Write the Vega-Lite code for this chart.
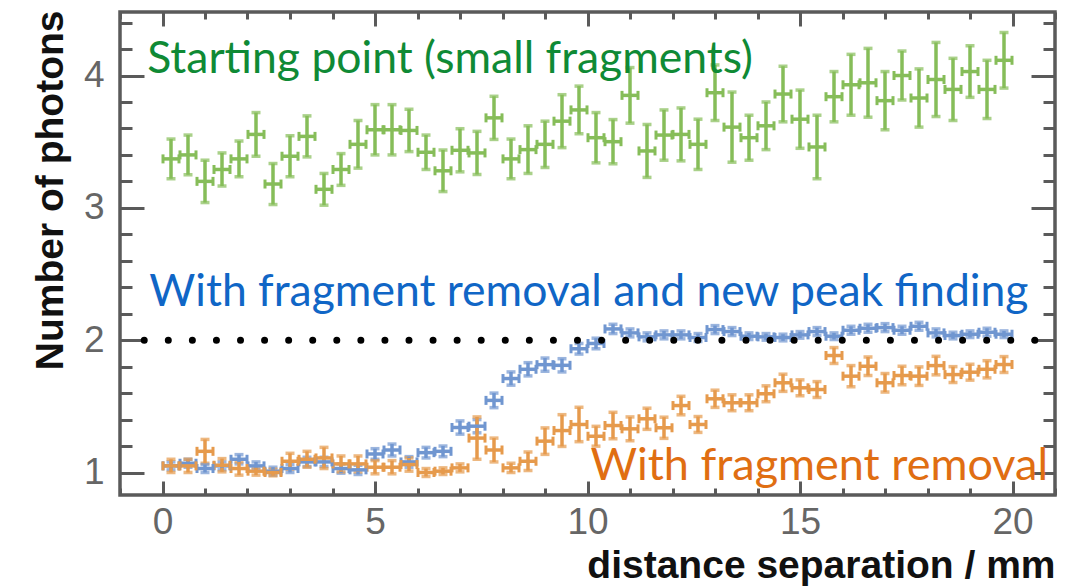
{
"$schema": "https://vega.github.io/schema/vega-lite/v6.json",
"width": 935, "height": 483,
"autosize": "none",
"padding": {"left": 120, "top": 12, "right": 28, "bottom": 92},
"background": "white",
"config": {"view": {"stroke": "#5a5a5a", "strokeWidth": 3.5}},
"data": {"values": [
{"s":"g","x":0.2,"y":3.37,"e":0.15},{"s":"g","x":0.6,"y":3.40,"e":0.15},{"s":"g","x":1.0,"y":3.20,"e":0.16},{"s":"g","x":1.4,"y":3.29,"e":0.125},{"s":"g","x":1.8,"y":3.37,"e":0.135},
{"s":"g","x":2.2,"y":3.555,"e":0.165},{"s":"g","x":2.6,"y":3.18,"e":0.155},{"s":"g","x":3.0,"y":3.39,"e":0.155},{"s":"g","x":3.4,"y":3.54,"e":0.155},{"s":"g","x":3.8,"y":3.14,"e":0.12},
{"s":"g","x":4.2,"y":3.29,"e":0.12},{"s":"g","x":4.6,"y":3.48,"e":0.18},{"s":"g","x":5.0,"y":3.59,"e":0.19},{"s":"g","x":5.4,"y":3.59,"e":0.19},{"s":"g","x":5.8,"y":3.585,"e":0.16},
{"s":"g","x":6.2,"y":3.42,"e":0.13},{"s":"g","x":6.6,"y":3.28,"e":0.157},{"s":"g","x":7.0,"y":3.435,"e":0.163},{"s":"g","x":7.4,"y":3.415,"e":0.163},{"s":"g","x":7.8,"y":3.68,"e":0.163},
{"s":"g","x":8.2,"y":3.37,"e":0.15},{"s":"g","x":8.6,"y":3.44,"e":0.18},{"s":"g","x":9.0,"y":3.48,"e":0.175},{"s":"g","x":9.4,"y":3.655,"e":0.2},{"s":"g","x":9.8,"y":3.74,"e":0.18},
{"s":"g","x":10.2,"y":3.53,"e":0.19},{"s":"g","x":10.6,"y":3.50,"e":0.167},{"s":"g","x":11.0,"y":3.85,"e":0.21},{"s":"g","x":11.4,"y":3.43,"e":0.2},{"s":"g","x":11.8,"y":3.55,"e":0.19},
{"s":"g","x":12.2,"y":3.555,"e":0.2},{"s":"g","x":12.6,"y":3.48,"e":0.19},{"s":"g","x":13.0,"y":3.87,"e":0.21},{"s":"g","x":13.4,"y":3.61,"e":0.265},{"s":"g","x":13.8,"y":3.53,"e":0.17},
{"s":"g","x":14.2,"y":3.62,"e":0.18},{"s":"g","x":14.6,"y":3.86,"e":0.21},{"s":"g","x":15.0,"y":3.67,"e":0.22},{"s":"g","x":15.4,"y":3.46,"e":0.24},{"s":"g","x":15.8,"y":3.84,"e":0.19},
{"s":"g","x":16.2,"y":3.93,"e":0.23},{"s":"g","x":16.6,"y":3.945,"e":0.26},{"s":"g","x":17.0,"y":3.81,"e":0.22},{"s":"g","x":17.4,"y":4.0,"e":0.185},{"s":"g","x":17.8,"y":3.83,"e":0.22},
{"s":"g","x":18.2,"y":3.97,"e":0.28},{"s":"g","x":18.6,"y":3.895,"e":0.235},{"s":"g","x":19.0,"y":4.03,"e":0.195},{"s":"g","x":19.4,"y":3.895,"e":0.22},{"s":"g","x":19.8,"y":4.115,"e":0.21},
{"s":"b","x":0.2,"y":1.05,"e":0.03},{"s":"b","x":0.6,"y":1.07,"e":0.03},{"s":"b","x":1.0,"y":1.03,"e":0.03},{"s":"b","x":1.4,"y":1.05,"e":0.03},{"s":"b","x":1.8,"y":1.10,"e":0.035},
{"s":"b","x":2.2,"y":1.05,"e":0.03},{"s":"b","x":2.6,"y":1.01,"e":0.03},{"s":"b","x":3.0,"y":1.03,"e":0.03},{"s":"b","x":3.4,"y":1.08,"e":0.035},{"s":"b","x":3.8,"y":1.08,"e":0.035},
{"s":"b","x":4.2,"y":1.03,"e":0.035},{"s":"b","x":4.6,"y":1.02,"e":0.035},{"s":"b","x":5.0,"y":1.14,"e":0.04},{"s":"b","x":5.4,"y":1.17,"e":0.045},{"s":"b","x":5.8,"y":1.08,"e":0.04},
{"s":"b","x":6.2,"y":1.15,"e":0.04},{"s":"b","x":6.6,"y":1.16,"e":0.04},{"s":"b","x":7.0,"y":1.34,"e":0.05},{"s":"b","x":7.4,"y":1.35,"e":0.05},{"s":"b","x":7.8,"y":1.545,"e":0.055},
{"s":"b","x":8.2,"y":1.71,"e":0.05},{"s":"b","x":8.6,"y":1.78,"e":0.05},{"s":"b","x":9.0,"y":1.815,"e":0.05},{"s":"b","x":9.4,"y":1.81,"e":0.05},{"s":"b","x":9.8,"y":1.935,"e":0.04},
{"s":"b","x":10.2,"y":1.975,"e":0.04},{"s":"b","x":10.6,"y":2.085,"e":0.035},{"s":"b","x":11.0,"y":2.055,"e":0.03},{"s":"b","x":11.4,"y":2.025,"e":0.03},{"s":"b","x":11.8,"y":2.04,"e":0.03},
{"s":"b","x":12.2,"y":2.04,"e":0.03},{"s":"b","x":12.6,"y":2.02,"e":0.03},{"s":"b","x":13.0,"y":2.08,"e":0.03},{"s":"b","x":13.4,"y":2.065,"e":0.03},{"s":"b","x":13.8,"y":2.03,"e":0.025},
{"s":"b","x":14.2,"y":2.025,"e":0.025},{"s":"b","x":14.6,"y":2.02,"e":0.025},{"s":"b","x":15.0,"y":2.04,"e":0.025},{"s":"b","x":15.4,"y":2.065,"e":0.03},{"s":"b","x":15.8,"y":2.03,"e":0.025},
{"s":"b","x":16.2,"y":2.075,"e":0.03},{"s":"b","x":16.6,"y":2.09,"e":0.03},{"s":"b","x":17.0,"y":2.095,"e":0.03},{"s":"b","x":17.4,"y":2.075,"e":0.03},{"s":"b","x":17.8,"y":2.105,"e":0.03},
{"s":"b","x":18.2,"y":2.055,"e":0.03},{"s":"b","x":18.6,"y":2.035,"e":0.025},{"s":"b","x":19.0,"y":2.045,"e":0.025},{"s":"b","x":19.4,"y":2.06,"e":0.03},{"s":"b","x":19.8,"y":2.045,"e":0.025},
{"s":"o","x":0.2,"y":1.05,"e":0.05},{"s":"o","x":0.6,"y":1.05,"e":0.05},{"s":"o","x":1.0,"y":1.16,"e":0.09},{"s":"o","x":1.4,"y":1.055,"e":0.05},{"s":"o","x":1.8,"y":1.03,"e":0.05},
{"s":"o","x":2.2,"y":1.01,"e":0.03},{"s":"o","x":2.6,"y":1.0,"e":0.025},{"s":"o","x":3.0,"y":1.085,"e":0.06},{"s":"o","x":3.4,"y":1.10,"e":0.06},{"s":"o","x":3.8,"y":1.11,"e":0.08},
{"s":"o","x":4.2,"y":1.065,"e":0.06},{"s":"o","x":4.6,"y":1.065,"e":0.06},{"s":"o","x":5.0,"y":1.04,"e":0.05},{"s":"o","x":5.4,"y":1.04,"e":0.05},{"s":"o","x":5.8,"y":1.06,"e":0.05},
{"s":"o","x":6.2,"y":1.0,"e":0.03},{"s":"o","x":6.6,"y":1.01,"e":0.025},{"s":"o","x":7.0,"y":1.035,"e":0.03},{"s":"o","x":7.4,"y":1.26,"e":0.16},{"s":"o","x":7.8,"y":1.17,"e":0.09},
{"s":"o","x":8.2,"y":1.035,"e":0.035},{"s":"o","x":8.6,"y":1.085,"e":0.07},{"s":"o","x":9.0,"y":1.237,"e":0.1},{"s":"o","x":9.4,"y":1.317,"e":0.12},{"s":"o","x":9.8,"y":1.363,"e":0.13},
{"s":"o","x":10.2,"y":1.274,"e":0.075},{"s":"o","x":10.6,"y":1.355,"e":0.1},{"s":"o","x":11.0,"y":1.33,"e":0.09},{"s":"o","x":11.4,"y":1.406,"e":0.08},{"s":"o","x":11.8,"y":1.338,"e":0.08},
{"s":"o","x":12.2,"y":1.506,"e":0.07},{"s":"o","x":12.6,"y":1.363,"e":0.06},{"s":"o","x":13.0,"y":1.557,"e":0.065},{"s":"o","x":13.4,"y":1.527,"e":0.06},{"s":"o","x":13.8,"y":1.527,"e":0.06},
{"s":"o","x":14.2,"y":1.595,"e":0.06},{"s":"o","x":14.6,"y":1.678,"e":0.065},{"s":"o","x":15.0,"y":1.64,"e":0.06},{"s":"o","x":15.4,"y":1.627,"e":0.06},{"s":"o","x":15.8,"y":1.884,"e":0.06},
{"s":"o","x":16.2,"y":1.728,"e":0.08},{"s":"o","x":16.6,"y":1.803,"e":0.07},{"s":"o","x":17.0,"y":1.678,"e":0.07},{"s":"o","x":17.4,"y":1.733,"e":0.07},{"s":"o","x":17.8,"y":1.728,"e":0.07},
{"s":"o","x":18.2,"y":1.808,"e":0.07},{"s":"o","x":18.6,"y":1.74,"e":0.06},{"s":"o","x":19.0,"y":1.758,"e":0.06},{"s":"o","x":19.4,"y":1.78,"e":0.065},{"s":"o","x":19.8,"y":1.816,"e":0.06}
]},
"resolve": {"axis": {"x": "independent", "y": "independent"}},
"layer": [
{
"mark": {"type": "errorbar", "ticks": true, "size": 9, "thickness": 3.5},
"encoding": {
"x": {"field": "x", "type": "quantitative", "scale": {"domain": [-1, 21], "nice": false, "zero": false},
 "axis": {"orient": "bottom", "values": [-1,0,1,2,3,4,5,6,7,8,9,10,11,12,13,14,15,16,17,18,19,20,21],
  "labelExpr": "datum.value % 5 === 0 ? datum.label : ''",
  "tickSize": {"condition": {"test": "datum.value % 5 === 0", "value": -14}, "value": -7},
  "tickColor": "#5a5a5a", "tickWidth": 3, "domain": false, "grid": false, "labelOverlap": false, "labelFlush": false,
  "labelFont": "Liberation Sans", "labelFontSize": 37, "labelColor": "#666666", "labelPadding": 23,
  "title": "distance separation / mm", "titleFont": "Liberation Sans", "titleFontSize": 39, "titleFontWeight": "bold", "titleColor": "#111111",
  "titleAnchor": "end", "titleX": 935, "titleY": 82, "titleAlign": "right", "titleBaseline": "alphabetic"}},
"y": {"field": "y", "type": "quantitative", "scale": {"domain": [0.83, 4.48], "nice": false, "zero": false},
 "axis": {"orient": "left", "values": [1,1.2,1.4,1.6,1.8,2,2.2,2.4,2.6,2.8,3,3.2,3.4,3.6,3.8,4,4.2,4.4],
  "labelExpr": "abs(datum.value - round(datum.value)) < 0.001 ? '' + round(datum.value) : ''",
  "tickSize": {"condition": {"test": "abs(datum.value - round(datum.value)) < 0.001", "value": -24}, "value": -12},
  "tickColor": "#5a5a5a", "tickWidth": 3, "domain": false, "grid": false, "labelOverlap": false, "labelFlush": false,
  "labelFont": "Liberation Sans", "labelFontSize": 37, "labelColor": "#666666", "labelPadding": 40,
  "title": "Number of photons", "titleFont": "Liberation Sans", "titleFontSize": 39, "titleFontWeight": "bold", "titleColor": "#111111",
  "titleAngle": -90, "titleAnchor": null, "titleX": -58, "titleY": -2, "titleAlign": "right", "titleBaseline": "alphabetic"}},
"yError": {"field": "e"},
"color": {"field": "s", "type": "nominal", "scale": {"domain": ["g", "b", "o"], "range": ["#86bd59", "#7096d0", "#e69a4c"]}, "legend": null}
}
},
{
"mark": {"type": "tick", "orient": "horizontal", "size": 17, "thickness": 3.5, "opacity": 1},
"encoding": {
"x": {"field": "x", "type": "quantitative", "axis": null},
"y": {"field": "y", "type": "quantitative", "axis": null},
"color": {"field": "s", "type": "nominal", "legend": null}
}
},
{
"mark": {"type": "tick", "orient": "vertical", "size": 9, "thickness": 3, "xOffset": -8, "opacity": 1},
"encoding": {
"x": {"field": "x", "type": "quantitative", "axis": null},
"y": {"field": "y", "type": "quantitative", "axis": null},
"color": {"field": "s", "type": "nominal", "legend": null}
}
},
{
"mark": {"type": "tick", "orient": "vertical", "size": 9, "thickness": 3, "xOffset": 8, "opacity": 1},
"encoding": {
"x": {"field": "x", "type": "quantitative", "axis": null},
"y": {"field": "y", "type": "quantitative", "axis": null},
"color": {"field": "s", "type": "nominal", "legend": null}
}
},
{
"data": {"values": [{}]},
"mark": {"type": "rule", "color": "#000000", "strokeWidth": 7, "strokeCap": "round", "strokeDash": [0, 24.07]},
"encoding": {
"x": {"datum": -0.43, "type": "quantitative",
 "axis": {"orient": "top", "values": [-1,0,1,2,3,4,5,6,7,8,9,10,11,12,13,14,15,16,17,18,19,20,21], "labels": false, "title": null,
  "tickSize": {"condition": {"test": "datum.value % 5 === 0", "value": -14}, "value": -7},
  "tickColor": "#5a5a5a", "tickWidth": 3, "domain": false, "grid": false}},
"x2": {"datum": 20.6},
"y": {"datum": 2, "type": "quantitative",
 "axis": {"orient": "right", "values": [1,1.2,1.4,1.6,1.8,2,2.2,2.4,2.6,2.8,3,3.2,3.4,3.6,3.8,4,4.2,4.4], "labels": false, "title": null,
  "tickSize": {"condition": {"test": "abs(datum.value - round(datum.value)) < 0.001", "value": -24}, "value": -12},
  "tickColor": "#5a5a5a", "tickWidth": 3, "domain": false, "grid": false}}
}
},
{
"data": {"values": [{}]},
"mark": {"type": "text", "align": "left", "baseline": "alphabetic", "font": "Lato", "fontSize": 44.5, "color": "#0f8a35"},
"encoding": {"x": {"datum": -0.36, "type": "quantitative", "axis": null}, "y": {"datum": 4.02, "type": "quantitative", "axis": null}, "text": {"value": "Starting point (small fragments)"}}
},
{
"data": {"values": [{}]},
"mark": {"type": "text", "align": "left", "baseline": "alphabetic", "font": "Lato", "fontSize": 44.5, "color": "#1066c6"},
"encoding": {"x": {"datum": -0.31, "type": "quantitative", "axis": null}, "y": {"datum": 2.262, "type": "quantitative", "axis": null}, "text": {"value": "With fragment removal and new peak finding"}}
},
{
"data": {"values": [{}]},
"mark": {"type": "text", "align": "left", "baseline": "alphabetic", "font": "Lato", "fontSize": 45, "color": "#e06e12"},
"encoding": {"x": {"datum": 10.07, "type": "quantitative", "axis": null}, "y": {"datum": 0.94, "type": "quantitative", "axis": null}, "text": {"value": "With fragment removal"}}
}
]
}
